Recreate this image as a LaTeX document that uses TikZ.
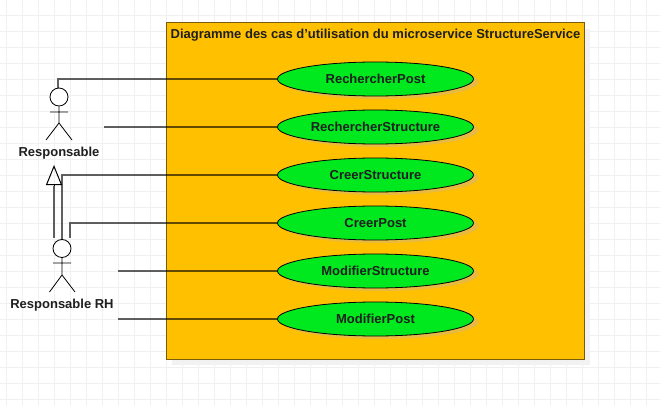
\documentclass[tikz,border=0pt]{standalone}
\usepackage{fontspec}
\setmainfont{Liberation Sans}
\usetikzlibrary{arrows.meta, positioning, shapes.geometric, shadows}
\definecolor{gridline}{HTML}{F0F0F2}
\definecolor{boxfill}{HTML}{FFC000}
\definecolor{boxedge}{HTML}{7A5C08}
\definecolor{ucfill}{HTML}{00E81E}
\definecolor{ucshadow}{HTML}{E8BA42}
\tikzset{
  sysbox/.style={draw=boxedge, fill=boxfill, line width=1pt, minimum width=418pt, minimum height=336pt, inner sep=0pt,
    drop shadow={shadow xshift=6pt, shadow yshift=-6pt, fill=black!5, opacity=1}},
  usecase/.style={draw=black, fill=ucfill, ellipse, line width=.8pt, minimum width=196pt, minimum height=34pt, inner sep=0pt,
    font=\fontsize{13}{15}\selectfont\bfseries, text=black!88,
    drop shadow={shadow xshift=5pt, shadow yshift=-3pt, fill=ucshadow, opacity=1}},
  head/.style={draw=black, fill=white, circle, line width=.8pt, minimum size=18pt, inner sep=0pt},
  stick/.style={draw=black, line width=.8pt},
  assoc/.style={draw=black, draw opacity=.62, line width=1.4pt},
  actorname/.style={font=\fontsize{13}{15}\selectfont\bfseries, text=black!88, inner sep=0pt}
}
\begin{document}
\begin{tikzpicture}[x=1pt,y=-1pt]
  \useasboundingbox (0,0) rectangle (660,406);
  \fill[white] (0,0) rectangle (660,406);
  % grid
  \foreach \gx in {6,22,...,660} { \draw[gridline, line width=.8pt] (\gx,0) -- (\gx,406); }
  \foreach \gy in {15,31,...,406} { \draw[gridline, line width=.8pt] (0,\gy) -- (660,\gy); }
  % system box
  \node[sysbox] (box) at (375,191) {};
  \node[font=\fontsize{13}{15}\selectfont\bfseries, text=black!88, inner sep=0pt] (title) at (375.5,35.5)
    {Diagramme des cas d'utilisation du microservice StructureService};
  % use cases
  \node[usecase] (rp) at (375.5,79) {RechercherPost};
  \node[usecase] (rs) at (375.5,127) {RechercherStructure};
  \node[usecase] (cs) at (375.5,175) {CreerStructure};
  \node[usecase] (cp) at (375.5,223) {CreerPost};
  \node[usecase] (ms) at (375.5,271) {ModifierStructure};
  \node[usecase] (mp) at (375.5,319) {ModifierPost};
  % actors
  \node[head] (resp) at (59,97) {};
  \draw[stick] (resp.south) -- (59,123) -- (46,140) (59,123) -- (72,140) (50,112) -- (68,112);
  \node[actorname] (respname) at (59,153.5) {Responsable};
  \node[head] (rh) at (62,248.5) {};
  \draw[stick] (rh.south) -- (62,275) -- (49.5,292) (62,275) -- (75,292) (53,263) -- (71,263);
  \node[actorname] (rhname) at (62,305.5) {Responsable RH};
  % free ends
  \coordinate (a1) at (58,88);
  \coordinate (a2) at (104,127);
  \coordinate (a3) at (62,240);
  \coordinate (a4) at (70,238);
  \coordinate (a5) at (118,271);
  \coordinate (a6) at (118,319);
  \coordinate (g1) at (54,238);
  \coordinate (g2) at (54,186);
  \coordinate (g3) at (54,165);
  % connectors
  \draw[assoc] (a1) |- (rp.west);
  \draw[assoc] (a2) -- (rs.west);
  \draw[assoc] (a3) |- (cs.west);
  \draw[assoc] (a4) |- (cp.west);
  \draw[assoc] (a5) -- (ms.west);
  \draw[assoc] (a6) -- (mp.west);
  \draw[assoc] (g1) -- (g2);
  \draw[stick, -{Triangle[open, length=20pt, width=16pt, line width=1pt]}] (g2) -- (g3);
\end{tikzpicture}
\end{document}
